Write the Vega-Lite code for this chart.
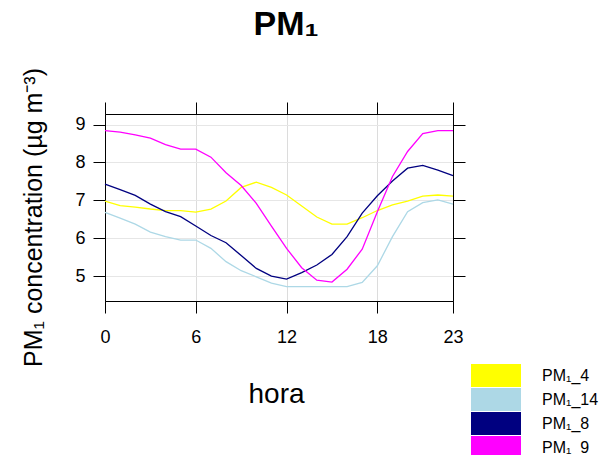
{
  "$schema": "https://vega.github.io/schema/vega-lite/v6.json",
  "autosize": {"type": "none"},
  "padding": {"left": 105, "top": 114, "right": 156, "bottom": 154},
  "width": 348,
  "height": 187,
  "background": "white",
  "config": {
    "font": "Liberation Sans",
    "view": {"stroke": "black", "strokeWidth": 1},
    "axis": {
      "labelFont": "Liberation Sans",
      "labelFontSize": 18,
      "labelColor": "black",
      "titleFont": "Liberation Sans",
      "titleColor": "black",
      "titleFontWeight": "normal",
      "tickColor": "black",
      "tickWidth": 1,
      "tickSize": 12,
      "domainColor": "black",
      "domainWidth": 1
    }
  },
  "title": {
    "text": "PM₁",
    "font": "Liberation Sans",
    "fontSize": 34,
    "fontWeight": "bold",
    "color": "black",
    "anchor": "middle",
    "frame": "group",
    "baseline": "alphabetic",
    "dx": 7,
    "offset": -1
  },
  "data": {
    "values": [
      {"hora": 0, "serie": "PM₁_4", "valor": 6.98},
      {"hora": 1, "serie": "PM₁_4", "valor": 6.86},
      {"hora": 2, "serie": "PM₁_4", "valor": 6.82},
      {"hora": 3, "serie": "PM₁_4", "valor": 6.77},
      {"hora": 4, "serie": "PM₁_4", "valor": 6.73},
      {"hora": 5, "serie": "PM₁_4", "valor": 6.73},
      {"hora": 6, "serie": "PM₁_4", "valor": 6.69},
      {"hora": 7, "serie": "PM₁_4", "valor": 6.77},
      {"hora": 8, "serie": "PM₁_4", "valor": 6.98},
      {"hora": 9, "serie": "PM₁_4", "valor": 7.34},
      {"hora": 10, "serie": "PM₁_4", "valor": 7.48},
      {"hora": 11, "serie": "PM₁_4", "valor": 7.34},
      {"hora": 12, "serie": "PM₁_4", "valor": 7.14},
      {"hora": 13, "serie": "PM₁_4", "valor": 6.85},
      {"hora": 14, "serie": "PM₁_4", "valor": 6.56},
      {"hora": 15, "serie": "PM₁_4", "valor": 6.37},
      {"hora": 16, "serie": "PM₁_4", "valor": 6.37},
      {"hora": 17, "serie": "PM₁_4", "valor": 6.54},
      {"hora": 18, "serie": "PM₁_4", "valor": 6.73},
      {"hora": 19, "serie": "PM₁_4", "valor": 6.88},
      {"hora": 20, "serie": "PM₁_4", "valor": 6.98},
      {"hora": 21, "serie": "PM₁_4", "valor": 7.11},
      {"hora": 22, "serie": "PM₁_4", "valor": 7.14},
      {"hora": 23, "serie": "PM₁_4", "valor": 7.11},
      {"hora": 0, "serie": "PM₁_14", "valor": 6.68},
      {"hora": 1, "serie": "PM₁_14", "valor": 6.53},
      {"hora": 2, "serie": "PM₁_14", "valor": 6.37},
      {"hora": 3, "serie": "PM₁_14", "valor": 6.16},
      {"hora": 4, "serie": "PM₁_14", "valor": 6.04},
      {"hora": 5, "serie": "PM₁_14", "valor": 5.95},
      {"hora": 6, "serie": "PM₁_14", "valor": 5.95},
      {"hora": 7, "serie": "PM₁_14", "valor": 5.73},
      {"hora": 8, "serie": "PM₁_14", "valor": 5.38},
      {"hora": 9, "serie": "PM₁_14", "valor": 5.14},
      {"hora": 10, "serie": "PM₁_14", "valor": 4.98},
      {"hora": 11, "serie": "PM₁_14", "valor": 4.81},
      {"hora": 12, "serie": "PM₁_14", "valor": 4.72},
      {"hora": 13, "serie": "PM₁_14", "valor": 4.72},
      {"hora": 14, "serie": "PM₁_14", "valor": 4.72},
      {"hora": 15, "serie": "PM₁_14", "valor": 4.72},
      {"hora": 16, "serie": "PM₁_14", "valor": 4.72},
      {"hora": 17, "serie": "PM₁_14", "valor": 4.83},
      {"hora": 18, "serie": "PM₁_14", "valor": 5.27},
      {"hora": 19, "serie": "PM₁_14", "valor": 6.04},
      {"hora": 20, "serie": "PM₁_14", "valor": 6.70},
      {"hora": 21, "serie": "PM₁_14", "valor": 6.94},
      {"hora": 22, "serie": "PM₁_14", "valor": 7.01},
      {"hora": 23, "serie": "PM₁_14", "valor": 6.90},
      {"hora": 0, "serie": "PM₁_8", "valor": 7.43},
      {"hora": 1, "serie": "PM₁_8", "valor": 7.28},
      {"hora": 2, "serie": "PM₁_8", "valor": 7.13},
      {"hora": 3, "serie": "PM₁_8", "valor": 6.90},
      {"hora": 4, "serie": "PM₁_8", "valor": 6.70},
      {"hora": 5, "serie": "PM₁_8", "valor": 6.57},
      {"hora": 6, "serie": "PM₁_8", "valor": 6.32},
      {"hora": 7, "serie": "PM₁_8", "valor": 6.07},
      {"hora": 8, "serie": "PM₁_8", "valor": 5.88},
      {"hora": 9, "serie": "PM₁_8", "valor": 5.54},
      {"hora": 10, "serie": "PM₁_8", "valor": 5.20},
      {"hora": 11, "serie": "PM₁_8", "valor": 5.00},
      {"hora": 12, "serie": "PM₁_8", "valor": 4.92},
      {"hora": 13, "serie": "PM₁_8", "valor": 5.09},
      {"hora": 14, "serie": "PM₁_8", "valor": 5.29},
      {"hora": 15, "serie": "PM₁_8", "valor": 5.57},
      {"hora": 16, "serie": "PM₁_8", "valor": 6.04},
      {"hora": 17, "serie": "PM₁_8", "valor": 6.66},
      {"hora": 18, "serie": "PM₁_8", "valor": 7.12},
      {"hora": 19, "serie": "PM₁_8", "valor": 7.51},
      {"hora": 20, "serie": "PM₁_8", "valor": 7.85},
      {"hora": 21, "serie": "PM₁_8", "valor": 7.92},
      {"hora": 22, "serie": "PM₁_8", "valor": 7.80},
      {"hora": 23, "serie": "PM₁_8", "valor": 7.65},
      {"hora": 0, "serie": "PM₁_9", "valor": 8.84},
      {"hora": 1, "serie": "PM₁_9", "valor": 8.80},
      {"hora": 2, "serie": "PM₁_9", "valor": 8.73},
      {"hora": 3, "serie": "PM₁_9", "valor": 8.64},
      {"hora": 4, "serie": "PM₁_9", "valor": 8.47},
      {"hora": 5, "serie": "PM₁_9", "valor": 8.35},
      {"hora": 6, "serie": "PM₁_9", "valor": 8.35},
      {"hora": 7, "serie": "PM₁_9", "valor": 8.14},
      {"hora": 8, "serie": "PM₁_9", "valor": 7.73},
      {"hora": 9, "serie": "PM₁_9", "valor": 7.39},
      {"hora": 10, "serie": "PM₁_9", "valor": 6.92},
      {"hora": 11, "serie": "PM₁_9", "valor": 6.32},
      {"hora": 12, "serie": "PM₁_9", "valor": 5.73},
      {"hora": 13, "serie": "PM₁_9", "valor": 5.22},
      {"hora": 14, "serie": "PM₁_9", "valor": 4.89},
      {"hora": 15, "serie": "PM₁_9", "valor": 4.84},
      {"hora": 16, "serie": "PM₁_9", "valor": 5.18},
      {"hora": 17, "serie": "PM₁_9", "valor": 5.71},
      {"hora": 18, "serie": "PM₁_9", "valor": 6.70},
      {"hora": 19, "serie": "PM₁_9", "valor": 7.63},
      {"hora": 20, "serie": "PM₁_9", "valor": 8.29},
      {"hora": 21, "serie": "PM₁_9", "valor": 8.76},
      {"hora": 22, "serie": "PM₁_9", "valor": 8.84},
      {"hora": 23, "serie": "PM₁_9", "valor": 8.84}
    ]
  },
  "layer": [
    {
      "mark": {"type": "line", "strokeWidth": 1.3, "interpolate": "linear"},
      "encoding": {
        "x": {
          "field": "hora",
          "type": "quantitative",
          "scale": {"domain": [0, 23], "nice": false, "zero": false},
          "axis": {
            "orient": "bottom",
            "values": [0, 6, 12, 18, 23],
            "title": "hora",
            "titleFontSize": 28,
            "titleBaseline": "alphabetic",
            "titleX": 171,
            "titleY": 101,
            "labelPadding": 15,
            "labelFlush": false,
            "labelOverlap": false,
            "grid": true,
            "gridColor": "#dcdcdc",
            "gridWidth": 1
          }
        },
        "y": {
          "field": "valor",
          "type": "quantitative",
          "scale": {"domain": [4.34, 9.28], "nice": false, "zero": false},
          "axis": {
            "orient": "left",
            "values": [5, 6, 7, 8, 9],
            "title": "PM₁ concentration (µg m⁻³)",
            "titleFontSize": 25,
            "titleAngle": -90,
            "titleBaseline": "alphabetic",
            "titleAlign": "center",
            "titleX": -64,
            "titleY": 103,
            "labelPadding": 8,
            "labelFlush": false,
            "labelOverlap": false,
            "grid": true,
            "gridColor": "#e6e6e6",
            "gridWidth": 1
          }
        },
        "color": {
          "field": "serie",
          "type": "nominal",
          "scale": {
            "domain": ["PM₁_4", "PM₁_14", "PM₁_8", "PM₁_9"],
            "range": ["#ffff00", "#add8e6", "#000080", "#ff00ff"]
          },
          "legend": {
            "orient": "none",
            "legendX": 378.5,
            "legendY": 249,
            "title": null,
            "padding": 0,
            "symbolType": "M-2,-0.92H2V0.92H-2Z",
            "symbolSize": 625,
            "symbolStrokeWidth": 0,
            "symbolOpacity": 1,
            "labelFont": "Liberation Sans",
            "labelFontSize": 16,
            "labelColor": "black",
            "labelOffset": 33.5,
            "rowPadding": 0,
            "encode": {
              "symbols": {
                "update": {
                  "fill": {"scale": "color", "field": "value"},
                  "strokeWidth": {"value": 0}
                }
              }
            }
          }
        }
      }
    },
    {
      "mark": {"type": "line", "strokeOpacity": 0},
      "encoding": {
        "x": {
          "field": "hora",
          "type": "quantitative",
          "axis": {
            "orient": "top",
            "values": [0, 6, 12, 18, 23],
            "labels": false,
            "title": null,
            "grid": false
          }
        },
        "y": {
          "field": "valor",
          "type": "quantitative",
          "axis": {
            "orient": "right",
            "values": [5, 6, 7, 8, 9],
            "labels": false,
            "title": null,
            "grid": false
          }
        },
        "detail": {"field": "serie", "type": "nominal"}
      }
    }
  ],
  "resolve": {"axis": {"x": "independent", "y": "independent"}}
}
